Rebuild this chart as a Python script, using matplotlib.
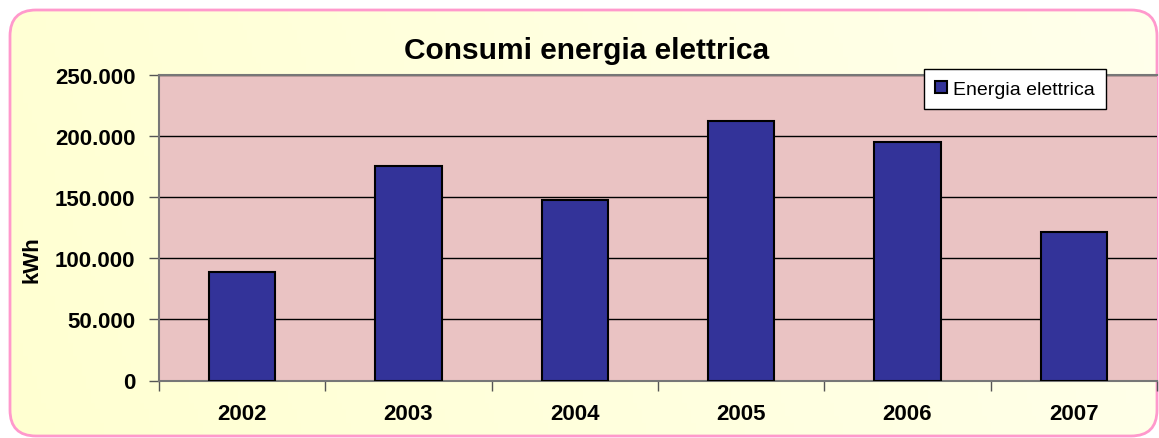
import numpy as np
import matplotlib
matplotlib.use('Agg')
import matplotlib.pyplot as plt
from matplotlib.patches import FancyBboxPatch

# data
years = ['2002', '2003', '2004', '2005', '2006', '2007']
consumi = [88500, 175500, 147500, 212500, 195000, 121500]
y_ticks = [0, 50000, 100000, 150000, 200000, 250000]
y_labels = ['0', '50.000', '100.000', '150.000', '200.000', '250.000']

plt.rcParams['font.family'] = ['Liberation Sans', 'DejaVu Sans']

fig = plt.figure(figsize=(11.59, 4.39), dpi=100)

# --- outer rounded frame with a soft yellow gradient ---
bg = fig.add_axes([0, 0, 1, 1], zorder=-10)
bg.set_xlim(0, 1159)
bg.set_ylim(439, 0)
bg.axis('off')
grad = np.linspace(0, 1, 256)[None, :] * np.ones((64, 1))
grad_v = np.linspace(0, 1, 64)[:, None] * np.ones((1, 256))
mix = np.clip(0.9 - 0.7 * grad + 0.1 * grad_v, 0, 1)
top = np.array([1.0, 1.0, 0.95])
low = np.array([1.0, 1.0, 0.82])
img = top[None, None, :] * (1 - mix[..., None]) + low[None, None, :] * mix[..., None]
box = dict(boxstyle='round,pad=0,rounding_size=26')
im = bg.imshow(img, extent=(10, 1157, 437, 11), aspect='auto', zorder=1)
clip = FancyBboxPatch((10, 11), 1147, 426, transform=bg.transData,
                      facecolor='none', edgecolor='none', **box)
bg.add_patch(clip)
im.set_clip_path(clip)
bg.add_patch(FancyBboxPatch((10, 11), 1147, 426, facecolor='none',
                            edgecolor='#FF99CC', linewidth=2, zorder=3, **box))

# --- plot area ---
ax = fig.add_axes([159 / 1159, 1 - 381.5 / 439, 998 / 1159, 305.5 / 439])
ax.set_facecolor('#EAC3C3')
x = np.arange(len(years))
ax.bar(x, consumi, width=0.4, color='#333399', edgecolor='black', linewidth=1.5,
       label='Energia elettrica', zorder=3)

ax.set_xlim(-0.5, len(years) - 0.5)
ax.set_ylim(0, 250000)
ax.set_yticks(y_ticks)
ax.set_yticklabels(y_labels, fontsize=16, fontweight='bold')
ax.set_xticks(x)
ax.set_xticklabels(years, fontsize=16, fontweight='bold')
ax.tick_params(axis='x', length=0, pad=16)
ax.set_xticks(np.arange(len(years) + 1) - 0.5, minor=True)
ax.tick_params(axis='x', which='minor', length=7, color='#555555', width=1)
ax.tick_params(axis='y', length=7, color='#555555', width=1, pad=10)
ax.yaxis.grid(True, color='black', linewidth=1)
ax.set_axisbelow(True)

for side in ['top', 'right', 'bottom', 'left']:
    ax.spines[side].set_color('#777777')
    ax.spines[side].set_linewidth(1.5)
ax.spines['right'].set_visible(False)

ax.set_ylabel('kWh', fontsize=16, fontweight='bold')
ax.yaxis.set_label_coords(-0.117, 0.40)
ax.set_title('Consumi energia elettrica', fontsize=21.5, fontweight='bold', pad=12, x=0.428)

leg = ax.legend(loc='upper right', bbox_to_anchor=(0.949, 1.02), fontsize=14,
                frameon=True, fancybox=False, edgecolor='black', framealpha=1,
                handlelength=0.6, handleheight=0.6, handletextpad=0.3,
                borderpad=0.6, borderaxespad=0)
leg.get_frame().set_linewidth(1)

fig.savefig('out.png', dpi=100)
